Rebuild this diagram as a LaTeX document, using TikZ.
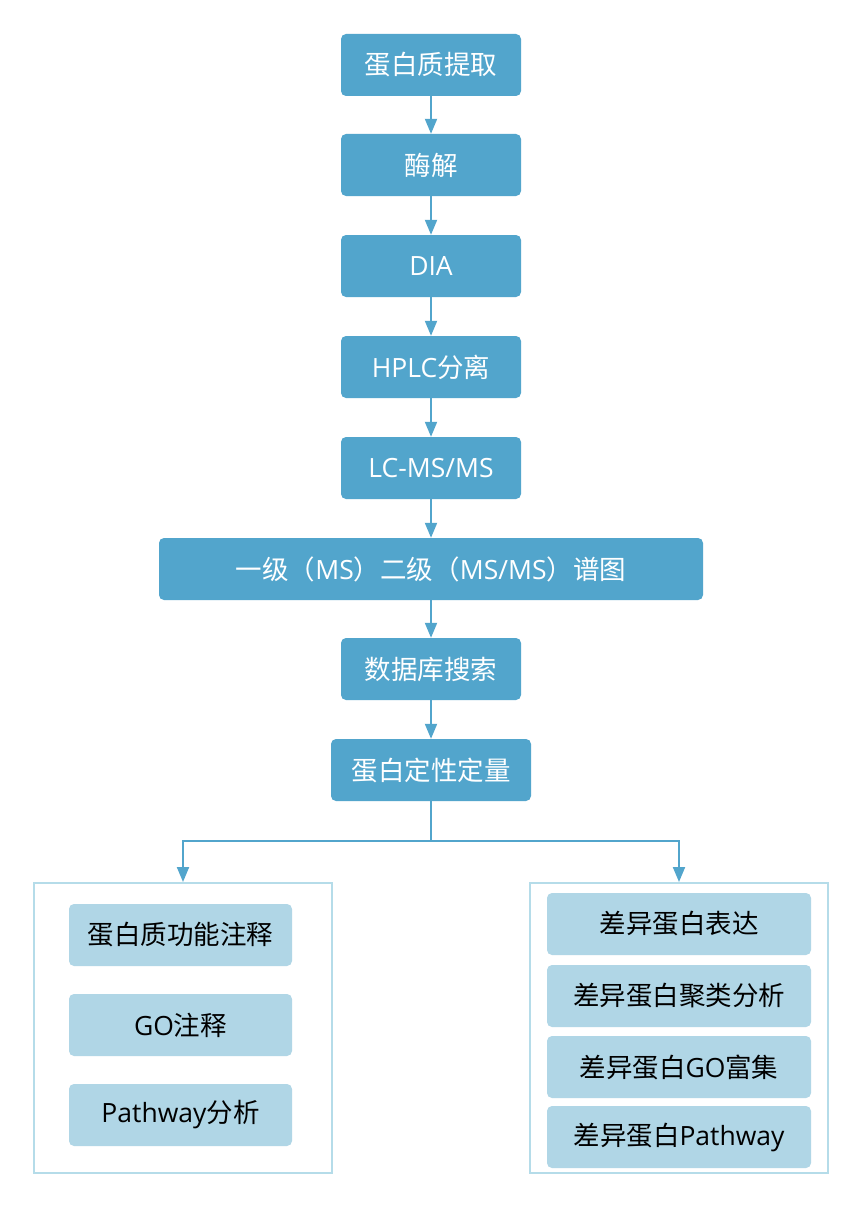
\documentclass[tikz,border=0pt]{standalone}
\usepackage{fontspec}
\setmainfont{Noto Sans CJK SC}
\newfontfamily\latf{Open Sans}
\newcommand{\lt}[1]{{\latf #1}}
\usetikzlibrary{arrows.meta}
\definecolor{darkb}{HTML}{52A5CC}
\definecolor{lightb}{HTML}{B0D6E6}
\definecolor{frameb}{HTML}{B5DCE9}
\tikzset{
  main/.style={draw=none,fill=darkb,rounded corners=5pt,text=white,font=\fontsize{26.5}{30}\selectfont,inner sep=0pt,minimum height=62pt},
  sub/.style={draw=none,fill=lightb,rounded corners=5pt,text=black,font=\fontsize{26.5}{30}\selectfont,inner sep=0pt,minimum height=62pt},
  frame/.style={draw=frameb,line width=2pt},
  conn/.style={draw=darkb,line width=2pt,-{Triangle[length=15pt,width=12pt]}},
}
\begin{document}
\begin{tikzpicture}[x=1pt,y=-1pt]
\useasboundingbox[fill=white] (0,0) rectangle (862,1209);
\node[main,minimum width=180pt] (n1) at (431,65) {蛋白质提取};
\node[main,minimum width=180pt] (n2) at (431,165) {酶解};
\node[main,minimum width=180pt] (n3) at (431,266) {\lt{DIA}};
\node[main,minimum width=180pt] (n4) at (431,367) {\lt{HPLC}分离};
\node[main,minimum width=180pt] (n5) at (431,468) {\lt{LC-MS/MS}};
\node[main,minimum width=544pt] (n6) at (431,569) {一级（\lt{MS}）二级（\lt{MS/MS}）谱图};
\node[main,minimum width=180pt] (n7) at (431,669) {数据库搜索};
\node[main,minimum width=200pt] (n8) at (431,770) {蛋白定性定量};
\foreach \a/\b in {n1/n2,n2/n3,n3/n4,n4/n5,n5/n6,n6/n7,n7/n8}
  \draw[conn] (\a.south) -- (\b.north);
% frames
\node[frame,minimum width=298pt,minimum height=290pt,inner sep=0pt] (lf) at (183,1028) {};
\node[frame,minimum width=298pt,minimum height=290pt,inner sep=0pt] (rf) at (679,1028) {};
\coordinate (br) at (431,841);
\draw[conn] (n8.south) -- (br) -| (lf.north);
\draw[conn] (br) -| (rf.north);
% left items
\node[sub,minimum width=223pt] (l1) at (180.5,935) {蛋白质功能注释};
\node[sub,minimum width=223pt] (l2) at (180.5,1025) {\lt{GO}注释};
\node[sub,minimum width=223pt] (l3) at (180.5,1115) {\lt{Pathway}分析};
% right items
\node[sub,minimum width=264pt] (r1) at (679,924) {差异蛋白表达};
\node[sub,minimum width=264pt] (r2) at (679,996) {差异蛋白聚类分析};
\node[sub,minimum width=264pt] (r3) at (679,1067) {差异蛋白\lt{GO}富集};
\node[sub,minimum width=264pt] (r4) at (679,1137) {差异蛋白\lt{Pathway}};
\end{tikzpicture}
\end{document}
